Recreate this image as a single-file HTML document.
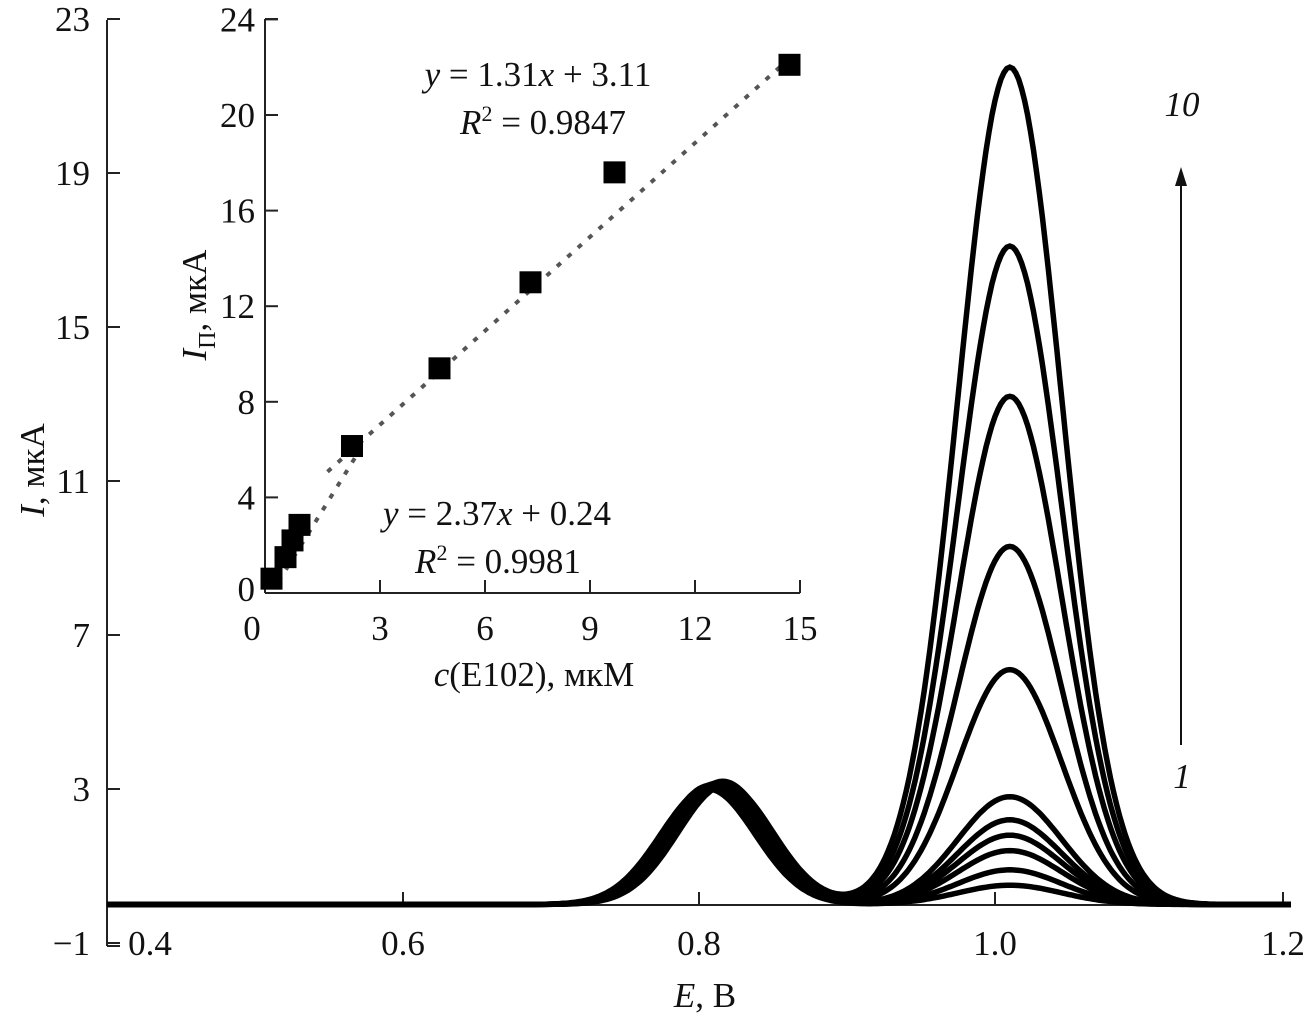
<!DOCTYPE html>
<html><head><meta charset="utf-8"><style>
html,body{margin:0;padding:0;background:#fff;width:1307px;height:1020px;overflow:hidden}
svg text{font-family:"Liberation Serif","DejaVu Serif",serif;fill:#111}
</style></head><body>
<svg id="chart" width="1307" height="1020" viewBox="0 0 1307 1020" xmlns="http://www.w3.org/2000/svg" font-family="Liberation Serif, serif"></svg>
<script>
// main chart data
const mainXTicks = [0.4, 0.6, 0.8, 1.0, 1.2];
const mainXTickLabels = ["0.4", "0.6", "0.8", "1.0", "1.2"];
const mainYTicks = [-1, 3, 7, 11, 15, 19, 23];
const peak2Heights = [0.5, 0.9, 1.4, 1.8, 2.2, 2.8, 6.1, 9.3, 13.2, 17.1, 21.75];
const peak1Heights = [3.0, 3.05, 3.1, 3.05, 3.1, 3.1, 3.15, 3.1, 3.15, 3.2, 3.1];
const peak1Centers = [0.806, 0.807, 0.808, 0.809, 0.81, 0.811, 0.812, 0.813, 0.814, 0.816, 0.818];
// inset data
const insetConc = [-0.1, 0.3, 0.5, 0.7, 2.2, 4.7, 7.3, 9.7, 14.7];
const insetCurrent = [0.6, 1.5, 2.2, 2.85, 6.15, 9.4, 13.0, 17.6, 22.1];
const insetXTicks = [0, 3, 6, 9, 12, 15];
const insetYTicks = [0, 4, 8, 12, 16, 20, 24];
const fitLow = [0.1, 2.37, 0.24, 2.3];   // xFrom, slope, intercept, xTo
const fitHigh = [1.5, 1.31, 3.11, 14.7];

const NS = "http://www.w3.org/2000/svg";
const svg = document.getElementById("chart");
function mk(tag, attrs, parent) {
  const e = document.createElementNS(NS, tag);
  for (const k in attrs) e.setAttribute(k, attrs[k]);
  (parent || svg).appendChild(e);
  return e;
}
const X = e => 107 + (e - 0.4) * 1480;
const Y = v => 943 - (v + 1) * 38.5;
const IX = c => 275 + c * 35;
const IY = v => 593 - v * 23.9;
const FS = 35;

// main axes
let g = mk("g", {});


mk("line", {x1:107, y1:20, x2:107, y2:946, stroke:"#222", "stroke-width":2}, g);
mk("line", {x1:107, y1:946, x2:120, y2:946, stroke:"#222", "stroke-width":2}, g);
mk("line", {x1:107, y1:905, x2:1283, y2:905, stroke:"#222", "stroke-width":2}, g);
mainYTicks.forEach(v => {
  mk("line", {x1:107, y1:Y(v), x2:120, y2:Y(v), stroke:"#222", "stroke-width":2}, g);
  const t = mk("text", {x:90, y:Y(v) + 12, "font-size":FS, "text-anchor":"end"}, g);
  
  
  t.textContent = v < 0 ? "\u2212" + Math.abs(v) : String(v);
});
mainXTicks.forEach((v, i) => {
  if (i > 0) mk("line", {x1:X(v) - (i==4?8:0), y1:905, x2:X(v) - (i==4?8:0), y2:892, stroke:"#222", "stroke-width":2}, g);
  const t = mk("text", {x: i==0 ? 150 : X(v) - (i==4?8:0), y:955, "font-size":FS, "text-anchor":"middle"}, g);
  
  
  t.textContent = mainXTickLabels[i];
});
let t = mk("text", {x:705, y:1007, "font-size":FS, "text-anchor":"middle"});


t.innerHTML = '<tspan font-style="italic">E</tspan>, В';
t = mk("text", {x:0, y:0, "font-size":FS, "text-anchor":"middle", transform:"translate(44,470) rotate(-90)"});


t.innerHTML = '<tspan font-style="italic">I</tspan>, мкА';

// curves
const cg = mk("g", {});


peak2Heights.forEach((h2, i) => {
  let d = "";
  for (let e = 0.4; e <= 1.2001; e += 0.002) {
    const v = peak1Heights[i] * Math.exp(-Math.pow((e - peak1Centers[i]) / 0.032, 2) / 2)
            + h2 * Math.exp(-Math.pow((e - 1.01) / 0.035, 2) / 2);
    d += (d ? "L" : "M") + X(e).toFixed(1) + "," + Y(v).toFixed(1);
  }
  const p = mk("path", {d, fill:"none", stroke:"#000", "stroke-width":5.5}, cg);
  
  
});

// arrow and labels
const ag = mk("g", {});


mk("line", {x1:1181, y1:745, x2:1181, y2:180, stroke:"#111", "stroke-width":2}, ag);
mk("polygon", {points:"1181,167 1175,186 1187,186", fill:"#111"}, ag);
t = mk("text", {x:1182, y:116, "font-size":FS, "font-style":"italic", "text-anchor":"middle"});


t.textContent = "10";
t = mk("text", {x:1182, y:788, "font-size":FS, "font-style":"italic", "text-anchor":"middle"});


t.textContent = "1";

// inset axes
const ig = mk("g", {});


mk("line", {x1:265, y1:19, x2:265, y2:593, stroke:"#222", "stroke-width":2}, ig);
mk("line", {x1:265, y1:593, x2:IX(15), y2:593, stroke:"#222", "stroke-width":2}, ig);
mk("line", {x1:265, y1:19, x2:278, y2:19, stroke:"#222", "stroke-width":2}, ig);
insetYTicks.forEach(v => {
  if (v > 0) mk("line", {x1:265, y1:IY(v), x2:278, y2:IY(v), stroke:"#222", "stroke-width":2}, ig);
  const tt = mk("text", {x:255, y:IY(v) + 12 + (v==0?-4:0), "font-size":FS, "text-anchor":"end"}, ig);
  
  
  tt.textContent = v;
});
insetXTicks.forEach(v => {
  if (v > 0) mk("line", {x1:IX(v), y1:593, x2:IX(v), y2:580, stroke:"#222", "stroke-width":2}, ig);
  const tt = mk("text", {x: v==0 ? 252 : IX(v), y:640, "font-size":FS, "text-anchor":"middle"}, ig);
  
  
  tt.textContent = v;
});
t = mk("text", {x:534, y:686, "font-size":FS, "text-anchor":"middle"});


t.innerHTML = '<tspan font-style="italic">c</tspan>(E102), мкМ';
t = mk("text", {x:0, y:0, "font-size":FS, "text-anchor":"middle", transform:"translate(206,305) rotate(-90)"});


t.innerHTML = '<tspan font-style="italic">I</tspan><tspan font-size="24" dy="9">П</tspan><tspan dy="-9">, мкА</tspan>';

// fit lines
[fitLow, fitHigh].forEach((f, i) => {
  const l = mk("line", {x1:IX(f[0]), y1:IY(f[1]*f[0]+f[2]), x2:IX(f[3]), y2:IY(f[1]*f[3]+f[2]), stroke:"#555", "stroke-width":4, "stroke-dasharray":"5,9"});
  
  
});
// points
insetConc.forEach((c, i) => {
  const r = mk("rect", {x:IX(c) - 11, y:IY(insetCurrent[i]) - 11, width:22, height:22, fill:"#000"});
  
  
});

// equations
t = mk("text", {x:538, y:86, "font-size":FS, "text-anchor":"middle"});


t.innerHTML = '<tspan font-style="italic">y</tspan> = 1.31<tspan font-style="italic">x</tspan> + 3.11';
t = mk("text", {x:543, y:134, "font-size":FS, "text-anchor":"middle"});


t.innerHTML = '<tspan font-style="italic">R</tspan><tspan font-size="22" dy="-13">2</tspan><tspan dy="13"> = 0.9847</tspan>';
t = mk("text", {x:497, y:525, "font-size":FS, "text-anchor":"middle"});


t.innerHTML = '<tspan font-style="italic">y</tspan> = 2.37<tspan font-style="italic">x</tspan> + 0.24';
t = mk("text", {x:498, y:573, "font-size":FS, "text-anchor":"middle"});


t.innerHTML = '<tspan font-style="italic">R</tspan><tspan font-size="22" dy="-13">2</tspan><tspan dy="13"> = 0.9981</tspan>';
</script>
</body></html>
